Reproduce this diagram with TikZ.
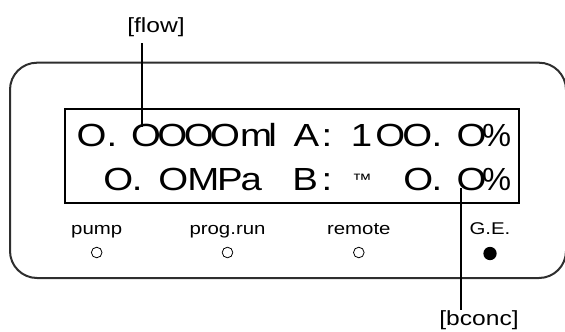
\documentclass[tikz,border=0pt]{standalone}
\usepackage{fontspec}
\setmainfont{Liberation Sans}
\newcommand\lcdtxt[1]{\scalebox{1.2}[1]{\fontsize{32}{32}\selectfont\frenchspacing #1}}
\newcommand\lbltxt[1]{\scalebox{1.2}[1]{\fontsize{17}{17}\selectfont #1}}
\newcommand\calltxt[1]{\scalebox{1.2}[1]{\fontsize{20.5}{20.5}\selectfont #1}}
\newcommand\hs[1]{\hspace{#1pt}}
\newcommand\pct{\scalebox{0.85}[1]{\%}}
\newcommand\tmark{\raisebox{5pt}{\fontsize{16.5}{16.5}\selectfont ™}}
\begin{document}
\begin{tikzpicture}[x=1pt,y=-1pt,
  frame/.style={draw=black!82, line width=2pt, rounded corners=27pt},
  lcdbox/.style={draw=black, line width=1.8pt},
  lcdline/.style={anchor=base west, inner sep=0pt},
  lbl/.style={anchor=base, inner sep=0pt},
  callout/.style={anchor=base, inner sep=0pt},
  lead/.style={draw=black, line width=1.6pt},
  led/.style={circle, draw=black, line width=0.8pt, minimum size=10.6pt, inner sep=0pt},
  ledon/.style={circle, fill=black, minimum size=13.3pt, inner sep=0pt}]
\useasboundingbox (0,0) rectangle (565,332);
% outer panel
\draw[frame] (10,62.7) rectangle (566,278);
% display
\draw[lcdbox] (65,109) rectangle (519,203);
\node[lcdline] (l1) at (76.5,146) {\lcdtxt{O. \hs{2.6}O\hs{-2.93}O\hs{-2.93}O\hs{-2.93}Om\hs{-3.08}l \hs{5.17}A\hs{1.96}: \hs{6.63}1\hs{2.5}O\hs{-2.4}O\hs{-0.45}. \hs{3.0}O\hs{-3.52}\pct}};
\node[lcdline] (l2) at (103.2,190) {\lcdtxt{O\hs{-1.28}. \hs{4.42}O\hs{-0.73}M\hs{-1.82}P\hs{-1.88}a \hs{16.54}B\hs{3.08}: \hs{7.5}\tmark{} \hs{17.32}O\hs{-1.28}. \hs{3.0}O\hs{-3.52}\pct}};
% indicators
\node[lbl] (pump) at (96.7,234) {\lbltxt{pump}};
\node[lbl] (prog) at (227.5,234) {\lbltxt{prog.run}};
\node[lbl] (remote) at (358.8,234) {\lbltxt{remote}};
\node[lbl] (ge) at (490,234) {\lbltxt{G.E.}};
\node[led] (pumpled) at (96.7,252.5) {};
\node[led] (progled) at (227.5,252.5) {};
\node[led] (remoteled) at (358.8,252.5) {};
\node[ledon] (geled) at (490,253.5) {};
% callouts
\node[callout] (flow) at (156,32.4) {\calltxt{[flow]}};
\node[callout] (bconc) at (479,325) {\calltxt{[bconc]}};
\coordinate (flowtop) at (142,43);
\coordinate (flowend) at (142,127);
\coordinate (bconctop) at (461,188);
\coordinate (bconcend) at (461,310);
\draw[lead] (flowtop) -- (flowend);
\draw[lead] (bconctop) -- (bconcend);
\end{tikzpicture}
\end{document}
